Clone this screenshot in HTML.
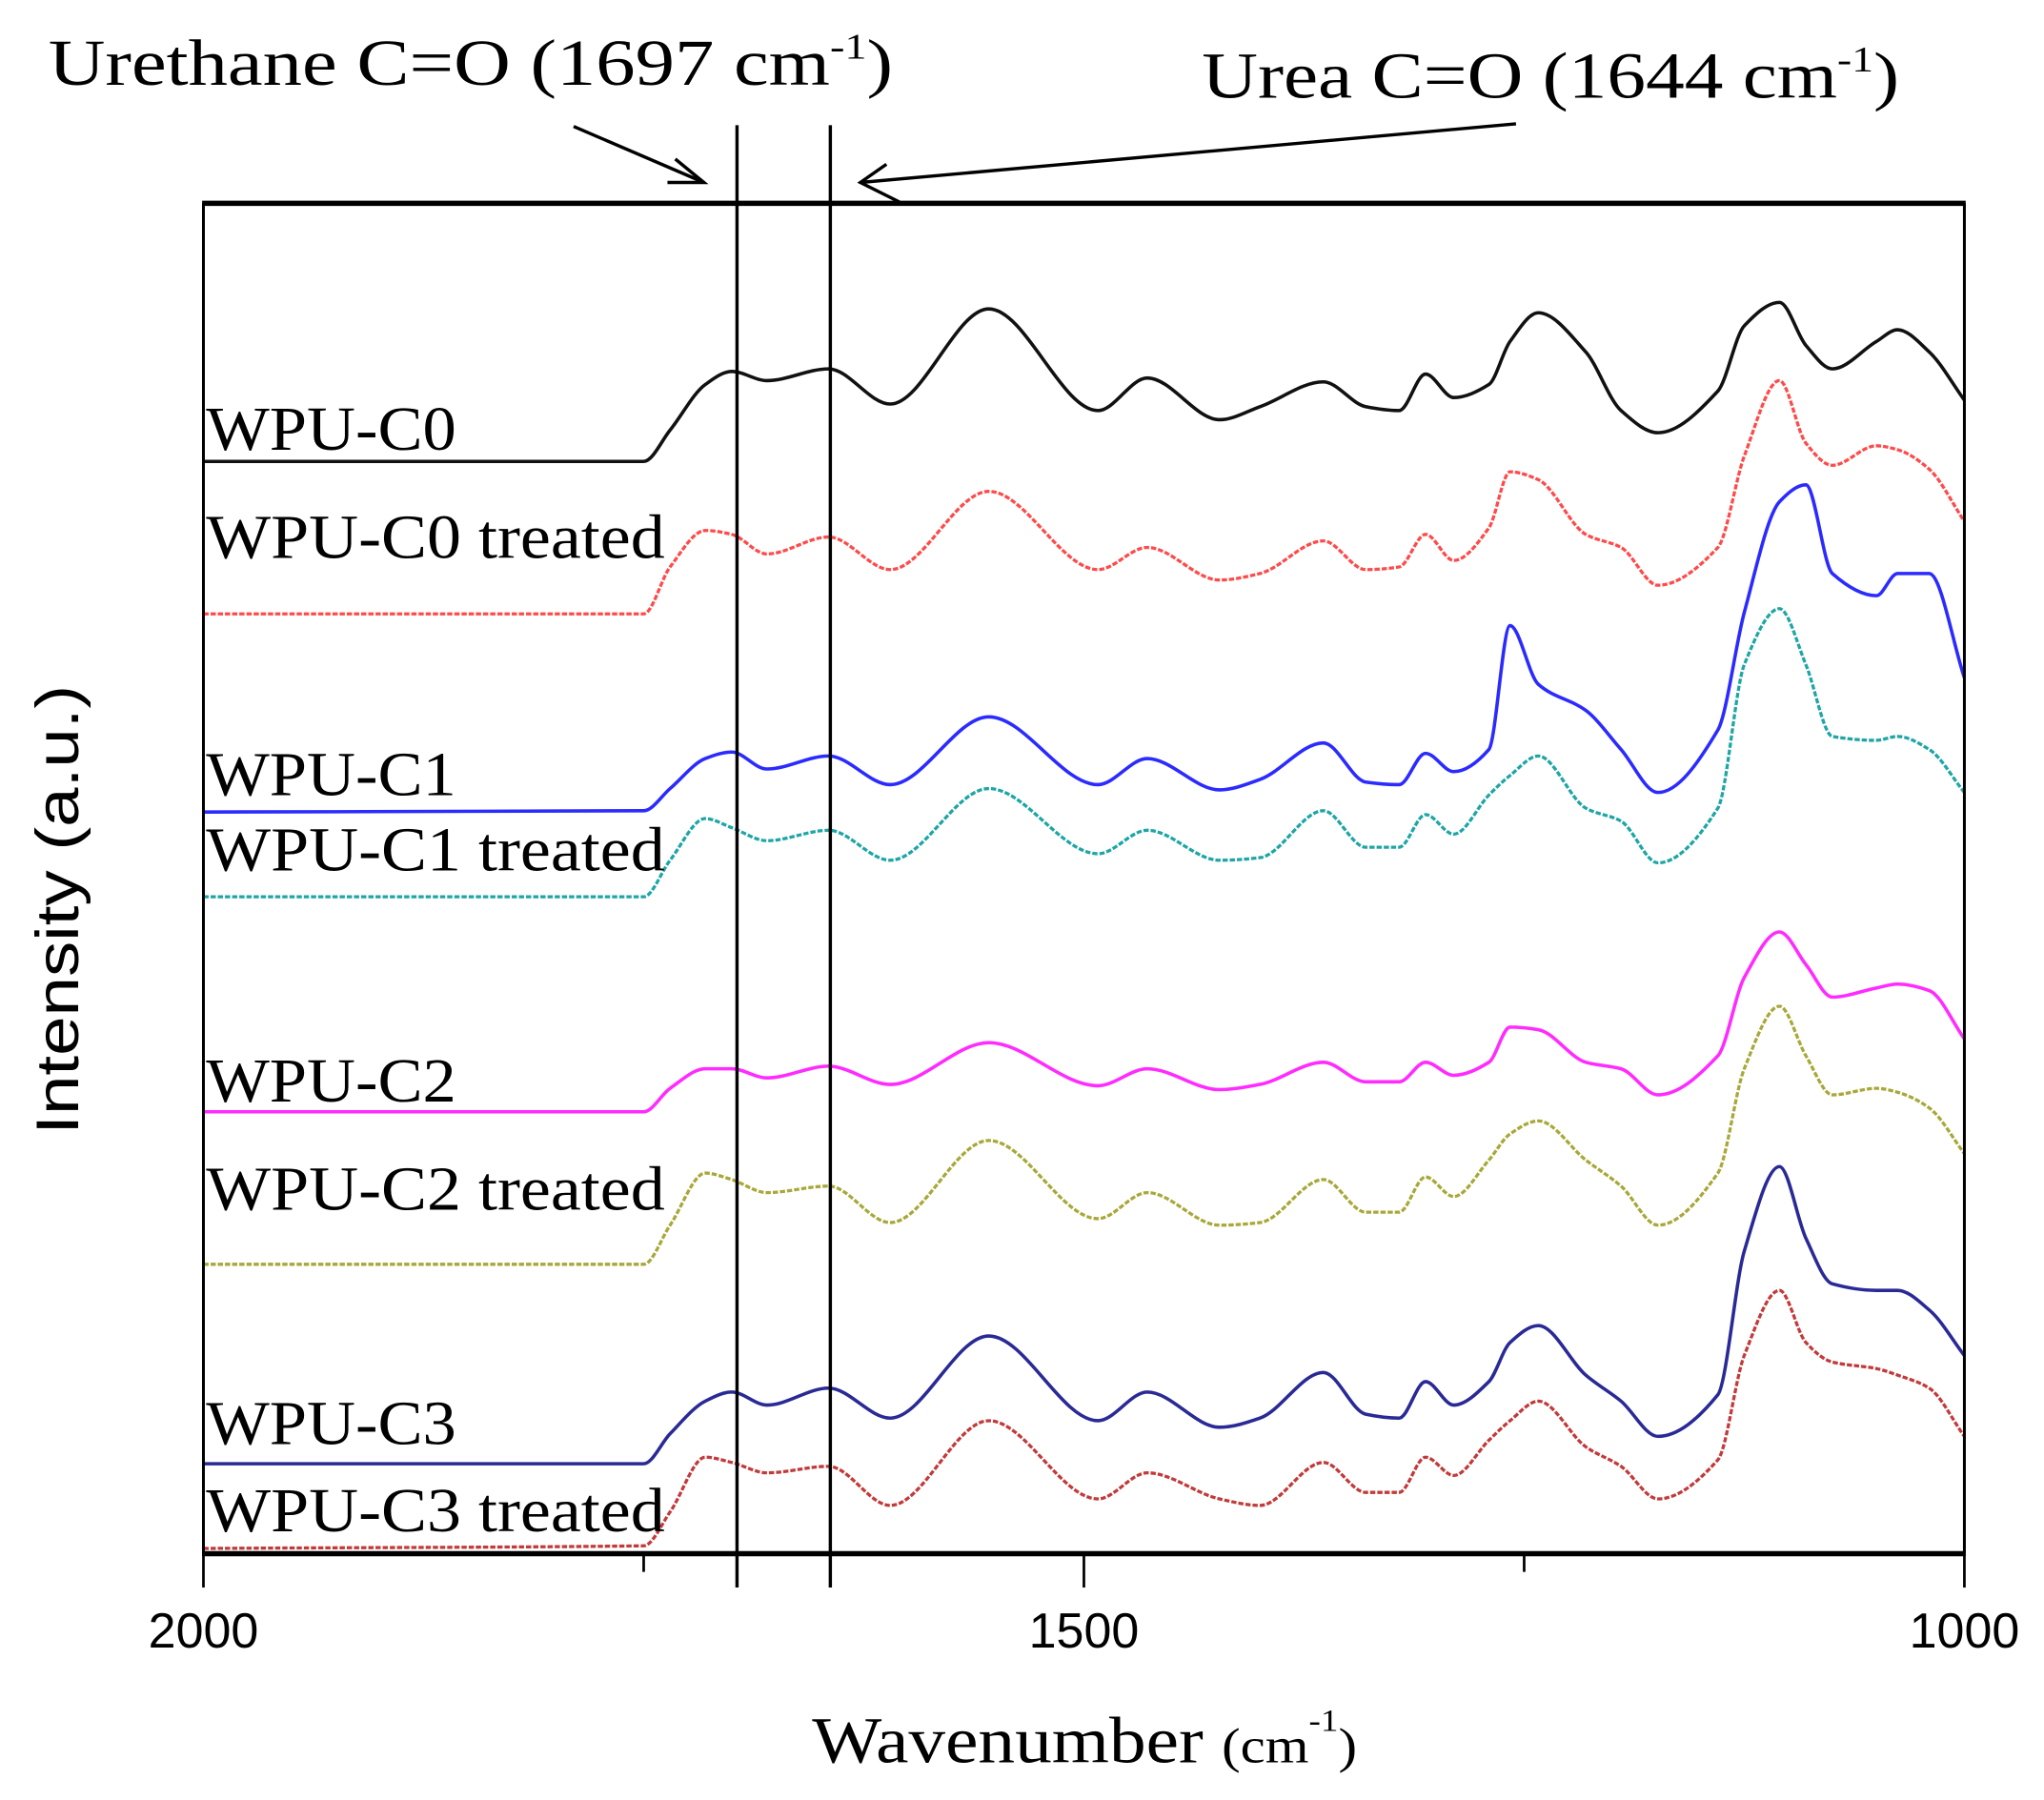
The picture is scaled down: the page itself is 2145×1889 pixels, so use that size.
<!DOCTYPE html>
<html><head><meta charset="utf-8"><style>
html,body{margin:0;padding:0;background:#fff;}
svg{display:block;}
</style></head><body>
<svg id="chart" width="2145" height="1889" viewBox="0 0 1568 1381" xmlns="http://www.w3.org/2000/svg">
<rect width="1568" height="1381" fill="#fff"/>
<g id="series"></g>
<g fill="none" stroke="#000">
<line x1="155" y1="156" x2="1508" y2="156" stroke-width="4"/>
<line x1="155" y1="1192" x2="1508" y2="1192" stroke-width="4"/>
<line x1="156" y1="156" x2="156" y2="1192" stroke-width="2.2"/>
<line x1="1507" y1="156" x2="1507" y2="1192" stroke-width="2.2"/>
</g>
<g id="ticks" stroke="#000" stroke-width="2"></g>
<g id="ticklabels" font-family="Liberation Sans, sans-serif" font-size="38" text-anchor="middle"></g>
<g id="marker-lines" stroke="#000" stroke-width="2.5"></g>
<g font-family="Liberation Serif, serif" fill="#000">
<text x="37" y="65" font-size="50" textLength="648" lengthAdjust="spacingAndGlyphs">Urethane C=O (1697 cm<tspan dy="-20" font-size="28">-1</tspan><tspan dy="20">)</tspan></text>
<text x="922" y="75" font-size="50" textLength="535" lengthAdjust="spacingAndGlyphs">Urea C=O (1644 cm<tspan dy="-20" font-size="28">-1</tspan><tspan dy="20">)</tspan></text>
<g stroke="#000" fill="none" stroke-width="2.5">
<line x1="440" y1="97" x2="540" y2="140"/>
<polyline points="518,122 540,140 512,140"/>
<line x1="1163" y1="95" x2="660" y2="140"/>
<polyline points="680,126 660,140 690,155"/>
</g>
</g>
<g id="labels" font-family="Liberation Serif, serif" font-size="48" fill="#000"></g>
<text transform="translate(60,698) rotate(-90)" font-family="Liberation Sans, sans-serif" font-size="46" text-anchor="middle" textLength="345" lengthAdjust="spacingAndGlyphs">Intensity (a.u.)</text>
<text x="832" y="1352" font-family="Liberation Serif, serif" font-size="50" text-anchor="middle" textLength="418" lengthAdjust="spacingAndGlyphs">Wavenumber <tspan font-size="38">(cm</tspan><tspan font-size="24" dy="-24">-1</tspan><tspan font-size="38" dy="24">)</tspan></text>
</svg>
<script>
const wavenumbers=[2000,1750,1735,1715,1700,1680,1645,1610,1554,1492,1464,1423,1400,1364,1340,1321,1306,1290,1270,1258,1242,1215,1195,1174,1140,1125,1105,1090,1075,1050,1038,1020,1000];
const wpuC0=[838,838,862,897,907,900,909,882,955,877,902,870,880,899,880,877,905,887,897,930,952,922,877,860,892,942,960,927,909,930,939,922,885];
const wpuC0t=[721,721,757,785,782,767,780,755,815,755,772,747,752,777,755,757,782,762,787,830,824,782,772,743,772,842,900,852,835,850,847,832,792];
const wpuC1=[569,570,587,610,615,602,612,590,642,590,610,586,594,622,592,590,614,600,617,712,667,647,617,584,632,722,807,820,752,735,752,752,672];
const wpuC1t=[504,504,532,564,557,547,555,532,587,537,555,532,534,570,542,542,567,552,582,597,612,572,562,530,572,682,725,682,627,624,627,617,584];
const wpuC2=[339,339,357,372,372,365,374,360,392,359,372,356,360,377,362,362,377,367,377,404,402,377,372,352,382,442,477,452,427,434,437,432,395];
const wpuC2t=[222,222,252,292,287,277,282,254,317,257,277,252,254,287,262,262,289,274,302,322,332,302,282,252,292,372,420,382,352,357,354,342,307];
const wpuC3=[69,69,92,117,124,114,127,104,167,102,124,97,104,139,107,104,132,114,132,162,175,137,117,90,122,232,297,242,207,202,202,187,152];
const wpuC3t=[4,6,32,74,70,62,67,37,102,42,62,42,37,70,47,47,74,60,87,102,117,82,67,42,72,152,202,162,147,142,137,127,90];
const seriesNames=["WPU-C0","WPU-C0 treated","WPU-C1","WPU-C1 treated","WPU-C2","WPU-C2 treated","WPU-C3","WPU-C3 treated"];
const labelIntensity=[847,764,582,524,347,264,84,17];
const xTicks=[2000,1750,1697,1644,1500,1250,1000];
const xTickLabels=[2000,1500,1000];
const markerWavenumbers=[1697,1644];

const seriesData=[wpuC0,wpuC0t,wpuC1,wpuC1t,wpuC2,wpuC2t,wpuC3,wpuC3t];
const colors=["#111","#ff4a4a","#2b2bff","#1fa5a5","#ff2bff","#a8a83a","#2a2a96","#c23a3a"];
const dashed=[false,true,false,true,false,true,false,true];
const NS="http://www.w3.org/2000/svg";
function xs(w){return 156+(2000-w)*(1507-156)/1000;}
function ys(v){return 1192-v*(1192-156)/1036;}
function pathFor(vals){
  const p=wavenumbers.map((w,i)=>[xs(w),ys(vals[i])]);
  const n=p.length, d=[], m=[];
  for(let i=0;i<n-1;i++) d.push((p[i+1][1]-p[i][1])/(p[i+1][0]-p[i][0]));
  for(let i=0;i<n;i++){
    if(i===0) m.push(d[0]);
    else if(i===n-1) m.push(d[n-2]);
    else if(d[i-1]*d[i]<=0) m.push(0);
    else m.push(2/(1/d[i-1]+1/d[i]));
  }
  let s="M"+p[0][0].toFixed(1)+","+p[0][1].toFixed(1);
  for(let i=0;i<n-1;i++){
    const h=(p[i+1][0]-p[i][0])/3;
    s+=" C"+(p[i][0]+h).toFixed(1)+","+(p[i][1]+m[i]*h).toFixed(1)+" "+(p[i+1][0]-h).toFixed(1)+","+(p[i+1][1]-m[i+1]*h).toFixed(1)+" "+p[i+1][0].toFixed(1)+","+p[i+1][1].toFixed(1);
  }
  return s;
}
const sg=document.getElementById('series');
seriesData.forEach((vals,i)=>{
  const el=document.createElementNS(NS,'path');
  el.setAttribute('d',pathFor(vals));
  el.setAttribute('fill','none');
  el.setAttribute('stroke',colors[i]);
  el.setAttribute('stroke-width',dashed[i]?'2.4':'2.6');
  if(dashed[i]) el.setAttribute('stroke-dasharray','4 1.5');
  
  
  sg.appendChild(el);
});
const lg=document.getElementById('labels');
seriesNames.forEach((n,i)=>{
  const t=document.createElementNS(NS,'text');
  t.setAttribute('x',158);
  t.setAttribute('y',ys(labelIntensity[i]));
  t.setAttribute('textLength',n.length>8?352:192);
  t.setAttribute('lengthAdjust','spacingAndGlyphs');
  t.textContent=n;
  
  
  lg.appendChild(t);
});
const tg=document.getElementById('ticks');
xTicks.forEach(w=>{
  const major=(w%500===0);
  const l=document.createElementNS(NS,'line');
  l.setAttribute('x1',xs(w));l.setAttribute('x2',xs(w));
  l.setAttribute('y1',1192);l.setAttribute('y2',major?1218:1206);
  
  
  tg.appendChild(l);
});
const tl=document.getElementById('ticklabels');
xTickLabels.forEach(w=>{
  const t=document.createElementNS(NS,'text');
  t.setAttribute('x',xs(w));t.setAttribute('y',1264);
  t.textContent=w;
  
  
  tl.appendChild(t);
});
const mg=document.getElementById('marker-lines');
markerWavenumbers.forEach(w=>{
  const l=document.createElementNS(NS,'line');
  l.setAttribute('x1',xs(w));l.setAttribute('x2',xs(w));
  l.setAttribute('y1',96);l.setAttribute('y2',1218);
  
  
  mg.appendChild(l);
});
</script>
</body></html>
